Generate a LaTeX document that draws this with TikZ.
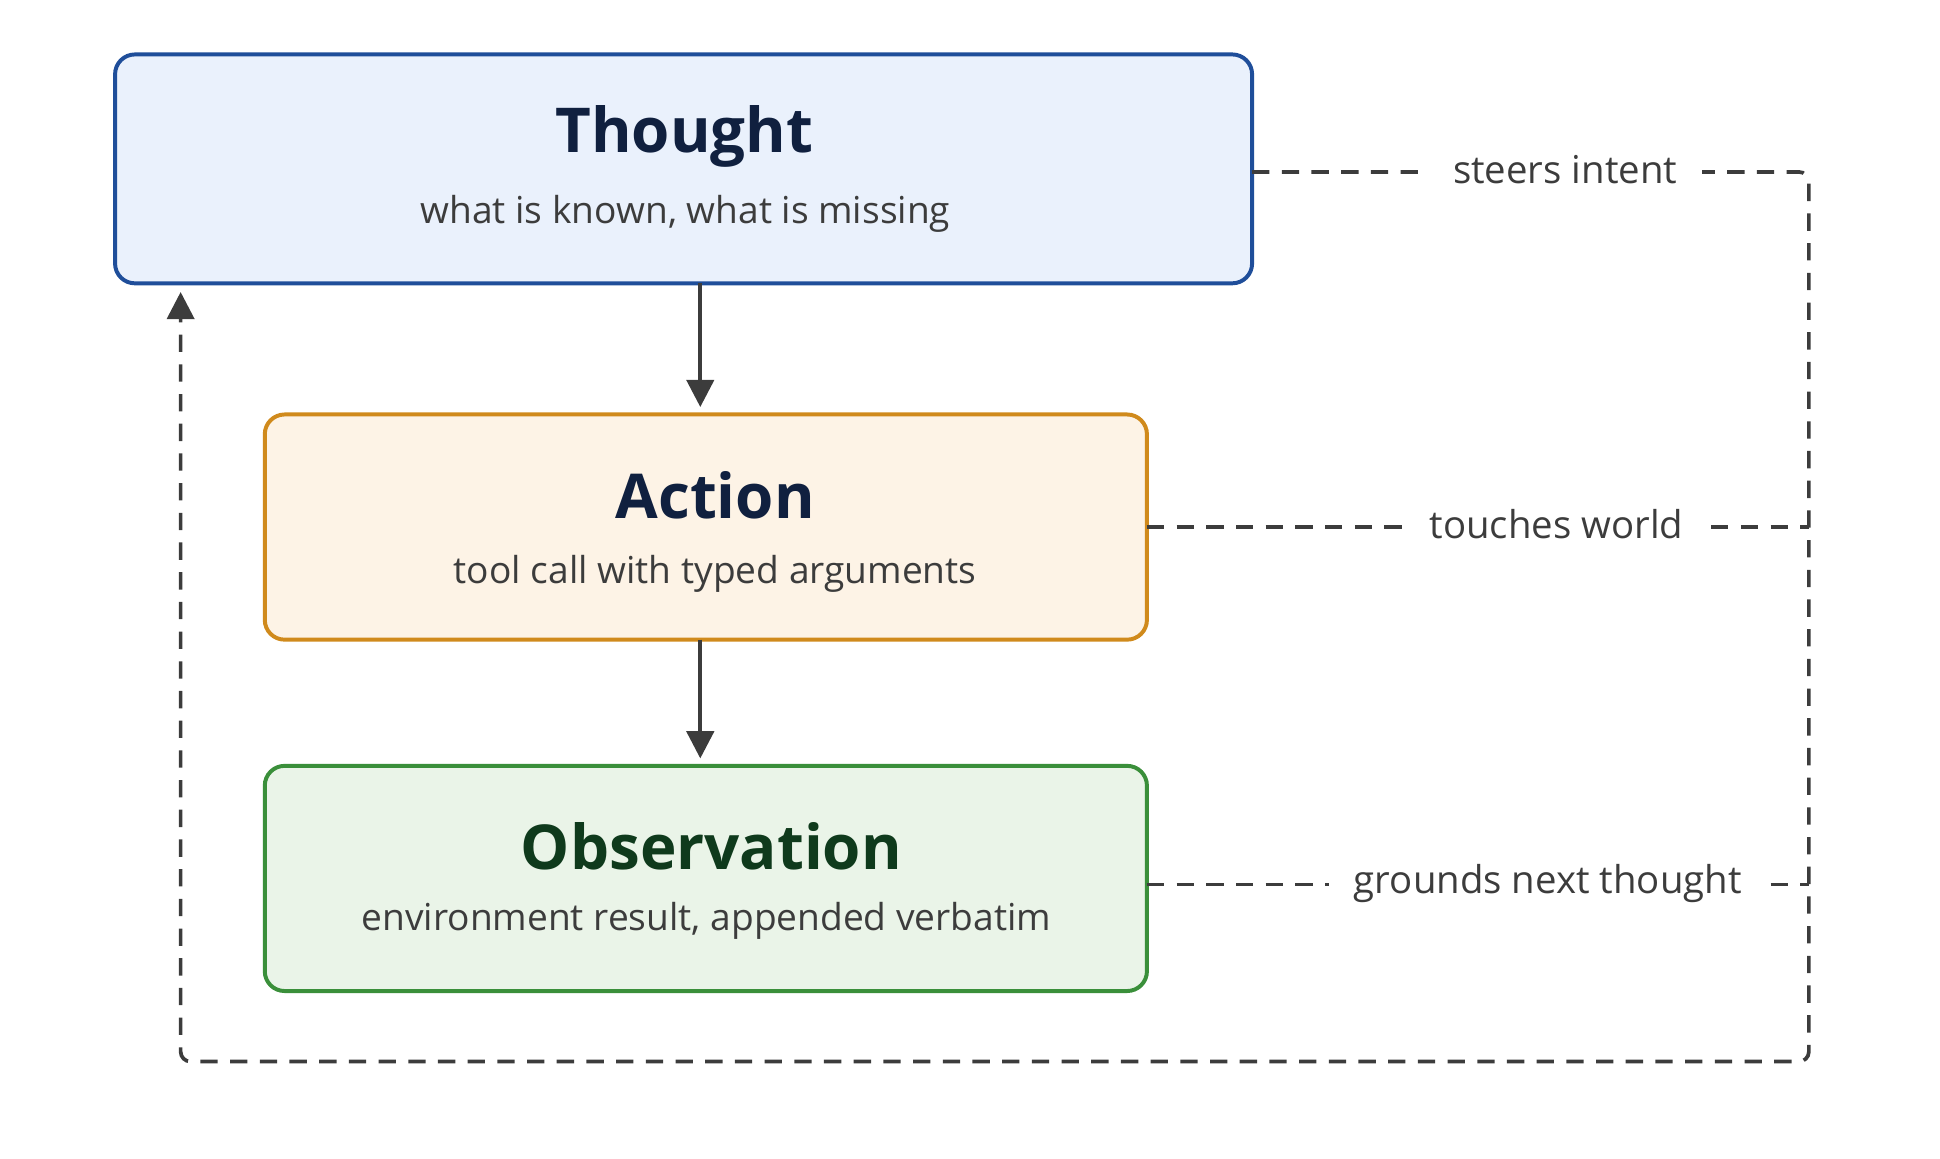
\documentclass[tikz,border=0pt]{standalone}
\usepackage{fontspec}
\setmainfont{Open Sans}
\usepackage{tikz}
\usetikzlibrary{arrows.meta}
\definecolor{thoughtline}{HTML}{1F4E9A}
\definecolor{thoughtfill}{HTML}{EAF1FC}
\definecolor{actionline}{HTML}{D08A1C}
\definecolor{actionfill}{HTML}{FDF3E6}
\definecolor{obsline}{HTML}{3A8F3A}
\definecolor{obsfill}{HTML}{EAF4E8}
\definecolor{navy}{HTML}{10203F}
\definecolor{darkgreen}{HTML}{0F3A1C}
\definecolor{linegray}{HTML}{3C3C3C}

\begin{document}
\begin{tikzpicture}[x=0.5pt,y=0.5pt,yscale=-1,xscale=1,
  stagebox/.style={rounded corners=8pt,line width=1.6pt},
  flowarrow/.style={-{Triangle[length=11pt,width=11pt]},line width=1.6pt,linegray},
  loopline/.style={dash pattern=on 7pt off 5pt,line width=1.5pt,linegray},
  sidelabel/.style={fill=white,inner xsep=10pt,inner ysep=4pt,font=\fontsize{15.5}{19}\selectfont,text=linegray}]
\useasboundingbox (0,0) rectangle (1568,936);

%Boxes
\draw[stagebox,draw=thoughtline,fill=thoughtfill] (93,44) rectangle (1012,229);
\draw[stagebox,draw=actionline,fill=actionfill] (214,335) rectangle (927,517);
\draw[stagebox,draw=obsline,fill=obsfill] (214,619) rectangle (927,801);

% Text Nodes
\node (thought) at (553,110) {\fontsize{25}{30}\selectfont\bfseries\color{navy}Thought};
\node (thoughtsub) at (554,173) {\fontsize{15}{19}\selectfont\color{linegray}what is known, what is missing};
\node (action) at (578,400) {\fontsize{25}{30}\selectfont\bfseries\color{navy}Action};
\node (actionsub) at (578,464) {\fontsize{15}{19}\selectfont\color{linegray}tool call with typed arguments};
\node (obs) at (575,684) {\fontsize{25}{30}\selectfont\bfseries\color{darkgreen}Observation};
\node (obssub) at (571,744) {\fontsize{15}{19}\selectfont\color{linegray}environment result, appended verbatim};

%Coordinates
\coordinate (tb) at (566,229);
\coordinate (at) at (566,329);
\coordinate (ab) at (566,517);
\coordinate (ot) at (566,613);
\coordinate (tr) at (1012,139);
\coordinate (ar) at (927,426);
\coordinate (or) at (927,715);
\coordinate (c1) at (1462,139);
\coordinate (c2) at (1462,858);
\coordinate (c3) at (146,858);
\coordinate (tl) at (146,236);

%Arrows
\draw[flowarrow] (tb) -- (at);
\draw[flowarrow] (ab) -- (ot);

%Dashed loop
\draw[loopline,rounded corners=4pt,-{Triangle[length=11pt,width=11pt]}] (tr) -- (c1) -- (c2) -- (c3) -- (tl);
\draw[loopline] (ar) -- (1462,426);
\draw[loopline] (or) -- (1462,715);

%Labels
\node[sidelabel] (steers) at (1265,137) {steers intent};
\node[sidelabel] (touches) at (1258,424) {touches world};
\node[sidelabel] (grounds) at (1251,714) {grounds next thought};

\end{tikzpicture}
\end{document}
